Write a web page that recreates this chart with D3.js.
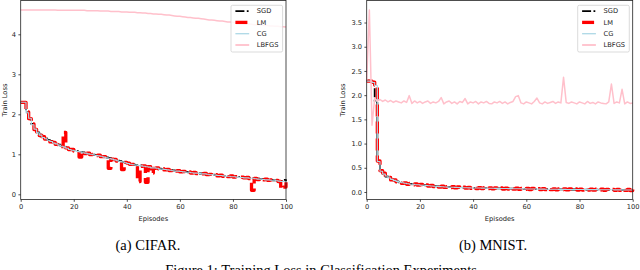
<!DOCTYPE html>
<html>
<head>
<meta charset="utf-8">
<script src="https://cdn.jsdelivr.net/npm/d3@7"></script>
<style>
  html, body { margin: 0; padding: 0; background: #fff; }
  svg { display: block; }
</style>
</head>
<body>
<svg id="fig" width="640" height="270"></svg>
<script>
// ---------------- DATA ----------------
const seriesNames = ["SGD", "LM", "CG", "LBFGS"];
const xTicks = [0, 20, 40, 60, 80, 100];
const cifarYTicks = [0, 1, 2, 3, 4];
const mnistYTicks = [0, 0.5, 1.0, 1.5, 2.0, 2.5, 3.0, 3.5];
const xLabel = "Episodes";
const yLabel = "Train Loss";
const panelCaptions = ["(a) CIFAR.", "(b) MNIST."];
const figureCaption = "Figure 1: Training Loss in Classification Experiments";

// CIFAR, one value per episode 0..100
const cifarSGD = [2.30,2.30,2.05,1.91,1.76,1.64,1.55,1.49,1.43,1.40,
  1.36,1.33,1.29,1.26,1.24,1.21,1.19,1.16,1.13,1.11,
  1.10,1.08,1.06,1.05,1.03,1.02,1.01,0.99,0.98,0.97,
  0.95,0.94,0.92,0.91,0.88,0.87,0.85,0.83,0.81,0.80,
  0.78,0.76,0.75,0.73,0.72,0.72,0.70,0.69,0.68,0.67,
  0.66,0.65,0.64,0.63,0.62,0.61,0.61,0.60,0.59,0.58,
  0.57,0.57,0.56,0.55,0.55,0.54,0.53,0.52,0.52,0.51,
  0.50,0.50,0.49,0.48,0.48,0.47,0.46,0.46,0.45,0.45,
  0.44,0.44,0.43,0.43,0.42,0.41,0.41,0.40,0.40,0.39,
  0.38,0.38,0.37,0.37,0.36,0.35,0.35,0.34,0.33,0.36,0.33];
const cifarLM = [2.30,2.30,2.06,1.89,1.76,1.62,1.56,1.47,1.44,1.38,
  1.37,1.31,1.30,1.25,1.24,1.19,1.55,1.16,1.12,1.12,
  1.08,1.08,0.93,1.06,1.02,1.03,0.99,1.00,0.97,0.98,
  0.94,0.94,0.91,0.65,0.88,0.87,0.83,0.83,0.62,0.80,
  0.78,0.75,0.75,0.72,0.32,0.70,0.71,0.30,0.69,0.53,
  0.65,0.66,0.63,0.64,0.61,0.62,0.59,0.61,0.58,0.59,
  0.56,0.57,0.55,0.56,0.53,0.55,0.52,0.53,0.51,0.52,
  0.49,0.50,0.48,0.49,0.46,0.48,0.45,0.47,0.44,0.46,
  0.43,0.44,0.42,0.43,0.41,0.42,0.39,0.10,0.40,0.37,
  0.39,0.36,0.38,0.35,0.36,0.34,0.35,0.32,0.14,0.18,0.30];
const cifarCG = [2.30,2.30,2.04,1.90,1.74,1.63,1.54,1.48,1.42,1.39,
  1.35,1.32,1.28,1.26,1.23,1.20,1.18,1.15,1.12,1.10,
  1.09,1.07,1.06,1.04,1.03,1.01,1.00,0.99,0.97,0.96,
  0.95,0.93,0.91,0.90,0.88,0.86,0.84,0.82,0.81,0.79,
  0.77,0.75,0.74,0.73,0.72,0.71,0.70,0.69,0.68,0.66,
  0.66,0.65,0.63,0.63,0.62,0.61,0.60,0.59,0.58,0.58,
  0.57,0.56,0.55,0.55,0.54,0.53,0.53,0.52,0.51,0.51,
  0.50,0.49,0.49,0.48,0.47,0.47,0.46,0.45,0.45,0.44,
  0.44,0.43,0.42,0.42,0.41,0.41,0.40,0.40,0.39,0.38,
  0.38,0.37,0.36,0.36,0.35,0.35,0.34,0.33,0.32,0.32,0.31];
const cifarLBFGS = [4.61,4.61,4.61,4.61,4.61,4.61,4.61,4.61,4.61,4.61,
  4.61,4.61,4.61,4.61,4.60,4.60,4.60,4.60,4.60,4.60,
  4.60,4.60,4.60,4.60,4.60,4.59,4.59,4.59,4.59,4.59,
  4.58,4.58,4.58,4.58,4.57,4.57,4.57,4.57,4.56,4.56,
  4.56,4.55,4.55,4.55,4.54,4.54,4.53,4.53,4.52,4.52,
  4.51,4.51,4.50,4.50,4.49,4.48,4.48,4.47,4.46,4.45,
  4.45,4.44,4.43,4.42,4.42,4.41,4.40,4.40,4.39,4.38,
  4.37,4.36,4.36,4.35,4.34,4.33,4.33,4.32,4.31,4.31,
  4.30,4.29,4.28,4.28,4.27,4.26,4.26,4.25,4.24,4.24,
  4.23,4.23,4.22,4.22,4.21,4.21,4.20,4.20,4.19,4.19,4.18];

// MNIST, one value per episode 0..100
const mnistSGD = [2.30,2.29,2.26,1.85,0.62,0.42,0.37,0.32,0.29,0.26,
  0.24,0.22,0.20,0.19,0.18,0.17,0.165,0.16,0.155,0.15,
  0.145,0.14,0.135,0.13,0.125,0.12,0.115,0.11,0.11,0.105,
  0.10,0.10,0.098,0.095,0.093,0.09,0.09,0.088,0.086,0.085,
  0.083,0.082,0.081,0.080,0.079,0.078,0.077,0.076,0.075,0.074,
  0.073,0.072,0.071,0.070,0.069,0.068,0.067,0.066,0.065,0.064,
  0.063,0.062,0.062,0.061,0.060,0.060,0.059,0.058,0.058,0.057,
  0.056,0.056,0.055,0.055,0.054,0.053,0.053,0.052,0.052,0.051,
  0.051,0.050,0.050,0.049,0.049,0.048,0.048,0.047,0.047,0.046,
  0.046,0.045,0.045,0.044,0.044,0.043,0.043,0.042,0.042,0.041,0.041];
const mnistLM = [2.29,2.29,2.27,2.21,0.64,0.44,0.39,0.32,0.30,0.25,
  0.25,0.21,0.21,0.18,0.19,0.16,0.175,0.15,0.165,0.14,
  0.155,0.13,0.145,0.12,0.135,0.11,0.125,0.10,0.12,0.095,
  0.11,0.09,0.108,0.085,0.103,0.08,0.10,0.078,0.096,0.075,
  0.093,0.072,0.091,0.070,0.089,0.068,0.087,0.066,0.085,0.064,
  0.083,0.062,0.081,0.060,0.079,0.058,0.077,0.056,0.075,0.054,
  0.073,0.052,0.072,0.051,0.070,0.050,0.069,0.048,0.068,0.047,
  0.066,0.046,0.065,0.045,0.064,0.043,0.063,0.042,0.062,0.041,
  0.061,0.040,0.060,0.039,0.059,0.038,0.058,0.037,0.057,0.036,
  0.056,0.035,0.055,0.034,0.054,0.033,0.053,0.032,0.052,0.031,0.051];
const mnistCG = [2.29,2.29,2.26,2.20,0.63,0.43,0.37,0.33,0.29,0.26,
  0.24,0.22,0.20,0.19,0.18,0.17,0.16,0.16,0.15,0.15,
  0.14,0.14,0.135,0.13,0.125,0.12,0.115,0.11,0.108,0.104,
  0.10,0.099,0.097,0.095,0.092,0.09,0.089,0.087,0.086,0.084,
  0.083,0.082,0.081,0.080,0.079,0.078,0.077,0.076,0.075,0.074,
  0.073,0.072,0.071,0.070,0.069,0.068,0.067,0.066,0.065,0.064,
  0.063,0.062,0.062,0.061,0.060,0.060,0.059,0.058,0.058,0.057,
  0.056,0.056,0.055,0.055,0.054,0.053,0.053,0.052,0.052,0.051,
  0.051,0.050,0.050,0.049,0.049,0.048,0.048,0.047,0.047,0.046,
  0.046,0.045,0.045,0.044,0.044,0.043,0.043,0.042,0.042,0.041,0.041];
const mnistLBFGS = [2.31,3.76,1.38,1.93,1.88,1.91,1.87,1.90,1.86,1.89,
  1.85,1.88,1.86,1.84,1.88,1.85,1.99,1.83,1.88,1.84,
  1.87,1.83,1.86,1.88,1.83,1.86,1.84,1.87,1.95,1.82,
  1.86,1.88,1.83,1.86,1.82,1.87,1.85,1.93,1.82,1.86,
  1.84,1.87,1.82,1.86,1.84,1.87,1.83,1.82,1.86,1.84,
  1.87,1.83,1.86,1.82,1.85,1.87,1.97,1.99,1.84,1.82,
  1.86,1.84,1.82,1.87,1.94,1.84,1.82,1.86,1.83,1.85,
  1.87,1.83,1.86,1.84,2.37,1.85,1.83,1.86,1.84,1.82,
  1.86,1.84,1.82,1.87,1.83,1.85,1.82,1.86,1.84,1.83,
  1.82,1.86,2.23,1.83,1.86,1.84,2.12,1.82,1.86,1.83,1.84];

// ---------------- DRAWING ----------------
const svg = d3.select("#fig");
const tickFont = "DejaVu Sans, sans-serif";
const tickSize = 6.7;

const styles = {
  SGD:   { color: "#000000", width: 1.8, dash: "9,2.4,1.8,2.4", curve: d3.curveStepAfter },
  LM:    { color: "#ff0000", width: 3.3, dash: "12,5",          curve: d3.curveStepAfter },
  CG:    { color: "#add8e6", width: 1.1, dash: null,            curve: d3.curveStepAfter },
  LBFGS: { color: "#ffc0cb", width: 1.5, dash: null,            curve: d3.curveLinear }
};

const panels = [
  { left: 20.7, right: 286, top: 0.5, bottom: 199.5, yDomain: [-0.13, 4.845],
    yTicks: cifarYTicks, yFmt: d3.format("d"), yLabelX: 4.5,
    data: { SGD: cifarSGD, LM: cifarLM, CG: cifarCG, LBFGS: cifarLBFGS },
    caption: panelCaptions[0], captionX: 148 },
  { left: 366.7, right: 632.7, top: 0.5, bottom: 199.5, yDomain: [-0.155, 3.955],
    yTicks: mnistYTicks, yFmt: d3.format(".1f"), yLabelX: 343,
    data: { SGD: mnistSGD, LM: mnistLM, CG: mnistCG, LBFGS: mnistLBFGS },
    caption: panelCaptions[1], captionX: 493 }
];

panels.forEach(p => {
  const x = d3.scaleLinear().domain([0, 100]).range([p.left, p.right]);
  const y = d3.scaleLinear().domain(p.yDomain).range([p.bottom, p.top]);
  const g = svg.append("g");

  // series
  seriesNames.forEach(name => {
    const st = styles[name];
    const vals = p.data[name];
    const line = d3.line()
      .x((d, i) => x(i))
      .y(d => y(d))
      .curve(st.curve);
    const path = g.append("path")
      .attr("d", line(vals))
      .attr("fill", "none")
      .attr("stroke", st.color)
      .attr("stroke-width", st.width)
      .attr("stroke-linejoin", "round");
    if (st.dash) path.attr("stroke-dasharray", st.dash);
  });

  // frame
  g.append("rect")
    .attr("x", p.left).attr("y", p.top)
    .attr("width", p.right - p.left).attr("height", p.bottom - p.top)
    .attr("fill", "none").attr("stroke", "#222").attr("stroke-width", 0.8);

  // axes
  const xAxis = d3.axisBottom(x).tickValues(xTicks).tickSize(2.3).tickPadding(2.3);
  const gx = g.append("g").attr("transform", `translate(0,${p.bottom})`).call(xAxis);
  const yAxis = d3.axisLeft(y).tickValues(p.yTicks).tickFormat(p.yFmt).tickSize(2.3).tickPadding(2.3);
  const gy = g.append("g").attr("transform", `translate(${p.left},0)`).call(yAxis);
  [gx, gy].forEach(a => {
    a.select(".domain").remove();
    a.selectAll(".tick line").attr("stroke", "#222").attr("stroke-width", 0.8);
    a.selectAll(".tick text").attr("font-family", tickFont).attr("font-size", tickSize).attr("fill", "#222");
  });

  // axis labels
  g.append("text")
    .attr("x", (p.left + p.right) / 2).attr("y", 220.5)
    .attr("text-anchor", "middle")
    .attr("font-family", tickFont).attr("font-size", tickSize).attr("fill", "#222")
    .text(xLabel);
  g.append("text")
    .attr("transform", `translate(${p.yLabelX + 2.3},${(p.top + p.bottom) / 2}) rotate(-90)`)
    .attr("text-anchor", "middle")
    .attr("font-family", tickFont).attr("font-size", tickSize).attr("fill", "#222")
    .text(yLabel);

  // legend
  const lgW = 51.6, lgH = 46.7;
  const lgX = p.right - 3.4 - lgW, lgY = 5.3;
  const lg = g.append("g");
  lg.append("rect")
    .attr("x", lgX).attr("y", lgY).attr("width", lgW).attr("height", lgH)
    .attr("rx", 1.5)
    .attr("fill", "#fff").attr("fill-opacity", 0.85)
    .attr("stroke", "#ccc").attr("stroke-width", 0.7);
  seriesNames.forEach((name, i) => {
    const st = styles[name];
    const cy = lgY + 5.8 + i * 11.3;
    const l = lg.append("line")
      .attr("x1", lgX + 4.4).attr("x2", lgX + 18.2)
      .attr("y1", cy).attr("y2", cy)
      .attr("stroke", st.color).attr("stroke-width", name === "LBFGS" ? 1.8 : (name === "CG" ? 1.3 : st.width));
    if (st.dash) l.attr("stroke-dasharray", st.dash);
    lg.append("text")
      .attr("x", lgX + 25.8).attr("y", cy)
      .attr("dy", "0.35em")
      .attr("font-family", tickFont).attr("font-size", tickSize).attr("fill", "#222")
      .text(name);
  });

  // panel caption
  svg.append("text")
    .attr("x", p.captionX).attr("y", 250)
    .attr("text-anchor", "middle")
    .attr("font-family", "Liberation Serif, Times New Roman, serif")
    .attr("font-size", 14.5).attr("fill", "#000")
    .text(p.caption);
});

// figure caption: the reference shows only its top, cut by the bottom edge
svg.append("text")
  .attr("x", 321).attr("y", 274.5)
  .attr("text-anchor", "middle")
  .attr("font-family", "Liberation Serif, Times New Roman, serif")
  .attr("font-size", 14.5).attr("fill", "#000")
  .text(figureCaption);
</script>
</body>
</html>
